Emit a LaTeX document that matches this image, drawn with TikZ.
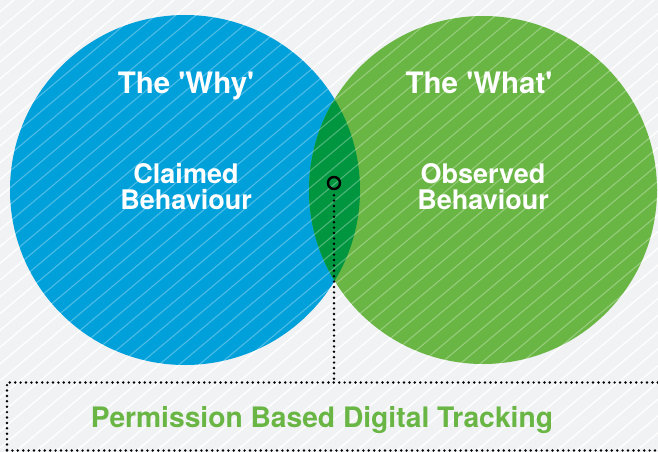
\documentclass[tikz,border=0pt]{standalone}
\usepackage{fontspec}
\setmainfont{TeX Gyre Heros}
\usepackage{xcolor}
\definecolor{whyblue}{HTML}{00A0DB}
\definecolor{whatgreen}{HTML}{69B644}
\definecolor{lensgreen}{HTML}{00963F}
\definecolor{bggray}{HTML}{F1F2F4}
\usepackage{tikz}
\usetikzlibrary{positioning}

\tikzset{
  title/.style={text=white, font=\fontsize{29.5}{30}\selectfont\bfseries, anchor=base, inner sep=0},
  claim/.style={text=white, font=\fontsize{27}{28}\selectfont\bfseries, anchor=base, inner sep=0},
  dotline/.style={line width=2.7pt, line cap=round, dash pattern=on 0pt off 5.4pt},
}

\begin{document}
\begin{tikzpicture}[x=1pt, y=-1pt]
    \useasboundingbox (0,0) rectangle (658,452);
    \fill[bggray] (0,0) rectangle (658,452);
    % hatching
    \begin{scope}
    \clip (0,0) rectangle (658,452);
    \foreach \i in {0,...,62}
        \draw[white, line width=1.3pt] (\i*20-6,0) -- ++(-539,452);
    \end{scope}

    \node [circle, fill=whyblue, minimum size=350pt, inner sep=0] (why) at (185,190) {};
    \node [circle, fill=whatgreen, minimum size=348pt, inner sep=0] (what) at (483,190) {};
    \begin{scope}
    \clip (185,190) circle (175pt);
    \fill[lensgreen] (483,190) circle (174pt);
    \end{scope}

    % faint hatching on the circles
    \begin{scope}
    \clip (0,0) rectangle (658,452);
    \foreach \i in {0,...,62}
        \draw[white, opacity=0.3, line width=1.1pt] (\i*20-6,0) -- ++(-539,452);
    \end{scope}

    \node [title] (whytitle) at (186,93) {The \textquotesingle Why\textquotesingle};
    \node [title] (whattitle) at (479,93) {The \textquotesingle What\textquotesingle};
    \node [claim] (claimed) at (186,183) {Claimed};
    \node [claim] (claimedb) at (186,209) {Behaviour};
    \node [claim] (observed) at (483,183) {Observed};
    \node [claim] (observedb) at (483,209) {Behaviour};

    \node [draw=black, dotline, minimum width=664pt, minimum height=68pt, inner sep=0] (box) at (339,416.5) {};
    \node [text=whatgreen, font=\fontsize{28.2}{29}\selectfont\bfseries, anchor=base, inner sep=0] (tracking) at (322,427) {Permission Based Digital Tracking};

    \node [circle, draw=black, line width=2.4pt, minimum size=12pt, inner sep=0] (mark) at (334,183) {};
    \draw [dotline] (mark.south) ++(0,5) -- (mark |- box.north);
\end{tikzpicture}
\end{document}
